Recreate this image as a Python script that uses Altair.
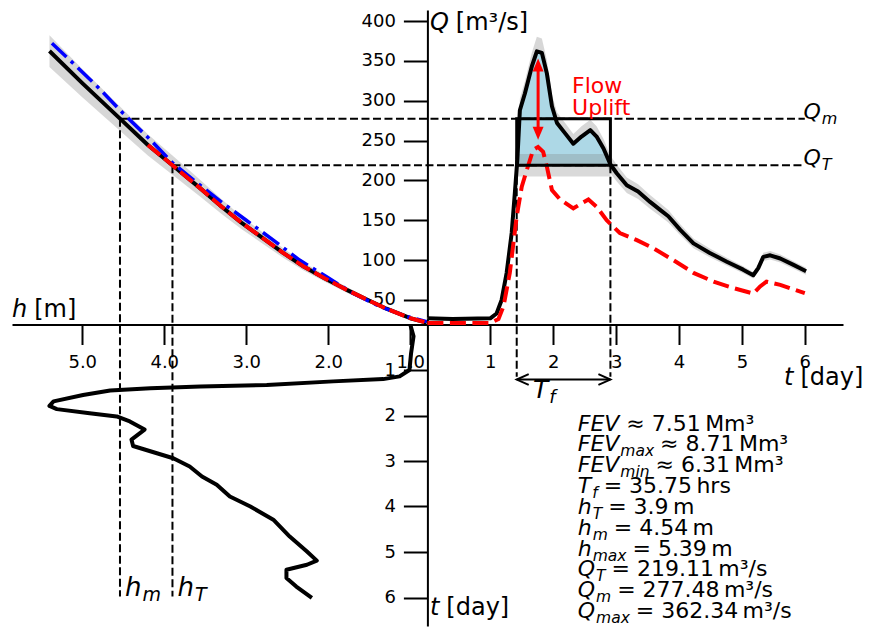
import altair as alt
import pandas as pd

# ---------------- values ----------------
# rating curve (stage h [m] -> discharge Q [m3/s]), black with grey band
H_RATING = [5.40, 5.00, 4.54, 4.20, 3.90, 3.56, 3.30, 3.06, 2.79, 2.55, 2.30, 2.04, 1.78, 1.53, 1.29, 1.00, 0.80]
Q_RATING = [362.3, 322, 277.5, 244.5, 219.1, 190, 167, 147, 127, 109, 92, 77, 63, 50.5, 39, 27.1, 21.5]
Q_RATING_LO = [342.4, 304.3, 262.2, 231.1, 207.0, 179.6, 157.8, 138.9, 120.0, 103.0, 86.9, 72.8, 59.5, 47.7, 36.9, 25.6, 20.3]
Q_RATING_HI = [382.2, 339.7, 292.8, 257.9, 231.2, 200.5, 176.2, 155.1, 134.0, 115.0, 97.1, 81.2, 66.5, 53.3, 41.1, 28.6, 22.7]
# red dashed part of the rating curve
H_RATING_RED = [4.20, 3.90, 3.56, 3.30, 3.06, 2.79, 2.55, 2.30, 2.04, 1.78, 1.53, 1.29, 1.00, 0.80]
Q_RATING_RED = [244.5, 219.1, 190, 167, 147, 127, 109, 92, 77, 63, 50.5, 39, 27.1, 21.5]
# blue dash-dot rating curve
H_RATING_BLUE = [5.37, 5.07, 4.78, 4.50, 4.17, 3.90, 3.60, 3.28, 3.00, 2.67, 2.35, 2.02, 1.70, 1.37, 1.04, 0.80]
Q_RATING_BLUE = [372, 343, 314, 284, 251, 222, 197, 171, 150, 125, 100, 79, 58.5, 41.7, 29.1, 22.8]

# hydrograph (t [day] -> Q), black with grey band
T_HYDRO = [0.00, 0.40, 1.00, 1.10, 1.18, 1.26, 1.34, 1.39, 1.43, 1.47, 1.55, 1.66, 1.74, 1.82,
           1.90, 1.98, 2.06, 2.19, 2.32, 2.45, 2.59, 2.69, 2.80, 2.91, 3.01, 3.17, 3.35, 3.54,
           3.70, 3.83, 4.02, 4.23, 4.49, 4.76, 5.02, 5.18, 5.26, 5.34, 5.45, 5.61, 5.82, 6.02]
Q_HYDRO = [27, 26, 27, 33, 50, 84, 134, 184, 226, 288, 309, 343, 362, 360,
           334, 293, 272, 259, 246, 255, 263, 255, 240, 220, 209, 194, 186, 173,
           163, 155, 138, 121, 109, 98, 88, 81, 90, 104, 106, 102, 94, 86]
Q_HYDRO_LO = [25.7, 24.7, 25.7, 31.4, 47.5, 79.8, 127.3, 174.8, 214.7, 273.6, 293.6, 325.9, 343.9, 342.0,
              317.3, 278.4, 258.4, 246.1, 233.7, 242.3, 249.9, 242.3, 228.0, 209.0, 198.6, 184.3, 176.7, 164.4,
              154.9, 147.3, 131.1, 115.0, 103.6, 93.1, 83.6, 77.0, 85.5, 98.8, 100.7, 96.9, 89.3, 81.7]
Q_HYDRO_HI = [28.4, 27.3, 28.4, 34.7, 52.5, 88.2, 140.7, 193.2, 237.3, 302.4, 324.5, 360.2, 380.1, 378.0,
              350.7, 307.7, 285.6, 272.0, 258.3, 267.8, 276.2, 267.8, 252.0, 231.0, 219.5, 203.7, 195.3, 181.7,
              171.2, 162.8, 144.9, 127.1, 114.5, 102.9, 92.4, 85.1, 94.5, 109.2, 111.3, 107.1, 98.7, 90.3]
# red dashed hydrograph
T_HYDRO_RED = [0.00, 1.00, 1.13, 1.21, 1.31, 1.42, 1.50, 1.58, 1.68, 1.76, 1.84, 1.90, 1.98, 2.11, 2.32,
               2.56, 2.69, 2.85, 3.06, 3.33, 3.59, 3.91, 4.23, 4.55, 4.86, 5.18, 5.29, 5.39, 5.61, 6.00]
Q_HYDRO_RED = [21, 21, 26, 42, 84, 155, 192, 213, 238, 242, 236, 217, 188, 176, 165,
               176, 167, 150, 134, 125, 115, 100, 84, 73, 65, 58, 67, 73, 69, 58.5]

# stage time series (t [day] downward -> h [m])
T_STAGE = [0.00, 0.26, 0.63, 1.00, 1.14, 1.20, 1.25, 1.33, 1.36, 1.40, 1.45, 1.55, 1.69, 1.79, 1.86,
           1.95, 2.02, 2.13, 2.31, 2.53, 2.67, 2.83, 2.94, 3.12, 3.34, 3.52, 3.78, 4.00, 4.29, 4.66,
           4.99, 5.19, 5.28, 5.39, 5.57, 5.76, 6.01]
H_STAGE = [1.00, 0.96, 0.99, 1.01, 1.13, 1.33, 1.94, 2.75, 3.56, 4.17, 4.66, 4.99, 5.35, 5.40, 5.31,
           4.91, 4.58, 4.42, 4.24, 4.40, 4.38, 4.09, 3.89, 3.69, 3.54, 3.36, 3.20, 2.95, 2.67, 2.47,
           2.26, 2.14, 2.26, 2.51, 2.51, 2.39, 2.20]

# summary values
FEV, FEV_MAX, FEV_MIN = 7.51, 8.71, 6.31
T_F_HRS = 35.75
H_T, H_M, H_MAX = 3.9, 4.54, 5.39
Q_T, Q_M, Q_MAX = 219.11, 277.48, 362.34
Q_T_LO, Q_T_HI = 205, 233          # grey uncertainty band of Q_T
T_START = 1.42                       # start of the flood window
T_END = T_START + T_F_HRS / 24.0
T_LINE_END = 6.0                     # right end of the Q_m / Q_T dashed lines
ARROW_T, ARROW_LO, ARROW_HI = 1.76, 251, 353   # "Flow Uplift" arrow

# tick labels
H_TICKS = [5.0, 4.0, 3.0, 2.0, 1.0]
T_TICKS = [1, 2, 3, 4, 5, 6]
Q_TICKS = [50, 100, 150, 200, 250, 300, 350, 400]
TD_TICKS = [1, 2, 3, 4, 5, 6]

# ---------------- layout: four quadrants sharing one crossing point ----------------
PLOT_W, PLOT_H = 831, 616
PAD = {"left": 12, "top": 10, "right": 28, "bottom": 8}
ORIGIN_X, ORIGIN_Y = 415.4, 314.5     # crossing of the spines inside the plot area
PX_T, PX_H, PX_Q, PX_TD = 62.9, 82.0, 0.797, 45.5   # px per day / metre / m3s / day(down)
H0, Q0 = 0.791, 19.2                  # stage and discharge at the crossing
KX = PX_H / PX_T
KY = PX_TD / PX_Q


def xh(h):
    return -(h - H0) * KX


def yt(td):
    return Q0 - td * KY


X_DOM = [-ORIGIN_X / PX_T, (PLOT_W - ORIGIN_X) / PX_T]
Y_DOM = [Q0 - (PLOT_H - ORIGIN_Y) / PX_Q, Q0 + ORIGIN_Y / PX_Q]
XS = alt.Scale(domain=X_DOM, nice=False, zero=False)
YS = alt.Scale(domain=Y_DOM, nice=False, zero=False)

FONT = "DejaVu Sans"
X_AXIS = alt.Axis(
    orient="bottom", offset=-(PLOT_H - ORIGIN_Y), title=None, grid=False,
    values=[xh(h) for h in H_TICKS] + T_TICKS,
    labelExpr=f"datum.value < 0 ? format({H0} - datum.value / {KX}, '.1f') : format(datum.value, '.0f')",
    domainColor="black", domainWidth=2, tickColor="black", tickWidth=2, tickSize=20,
    labelFont=FONT, labelFontSize=18, labelColor="black", labelPadding=9,
    labelOverlap=False, labelFlush=False, labelAlign="center", labelBaseline="top")
Y_AXIS = alt.Axis(
    orient="left", offset=-ORIGIN_X, title=None, grid=False,
    values=Q_TICKS + [yt(t) for t in TD_TICKS],
    labelExpr=f"datum.value > 0 ? format(datum.value, '.0f') : format(({Q0} - datum.value) / {KY}, '.0f')",
    domainColor="black", domainWidth=2, tickColor="black", tickWidth=2, tickSize=24,
    labelFont=FONT, labelFontSize=18, labelColor="black", labelPadding=8,
    labelOverlap=False, labelFlush=False)


def ex(field="X"):
    return alt.X(f"{field}:Q", scale=XS, axis=X_AXIS)


def ey(field="Y"):
    return alt.Y(f"{field}:Q", scale=YS, axis=Y_AXIS)


# ---------------- tables built from the arrays ----------------
rating = pd.DataFrame({"X": [xh(h) for h in H_RATING], "Y": Q_RATING,
                       "lo": Q_RATING_LO, "hi": Q_RATING_HI, "i": range(len(H_RATING))})
rating_red = pd.DataFrame({"X": [xh(h) for h in H_RATING_RED], "Y": Q_RATING_RED,
                           "i": range(len(H_RATING_RED))})
rating_blue = pd.DataFrame({"X": [xh(h) for h in H_RATING_BLUE], "Y": Q_RATING_BLUE,
                            "i": range(len(H_RATING_BLUE))})
hydro = pd.DataFrame({"X": T_HYDRO, "Y": Q_HYDRO, "lo": Q_HYDRO_LO, "hi": Q_HYDRO_HI,
                      "i": range(len(T_HYDRO))})
hydro_red = pd.DataFrame({"X": T_HYDRO_RED, "Y": Q_HYDRO_RED, "i": range(len(T_HYDRO_RED))})
stage = pd.DataFrame({"X": [xh(h) for h in H_STAGE], "Y": [yt(t) for t in T_STAGE],
                      "i": range(len(T_STAGE))})

inside = [(t, q) for t, q in zip(T_HYDRO, Q_HYDRO) if T_START < t < T_END]
fill = pd.DataFrame({"X": [T_START] + [p[0] for p in inside] + [T_END],
                     "Y": [Q_T] + [p[1] for p in inside] + [Q_T]})
fill["base"] = Q_T

qt_band = pd.DataFrame({"X": [T_START], "X2": [T_END], "Y": [Q_T_LO], "Y2": [Q_T_HI]})
box = pd.DataFrame({"X": [T_START], "X2": [T_END], "Y": [Q_T], "Y2": [Q_M]})

TD_DASH_END = 5.98
TD_TF_DASH = 1.15
TD_TF_ARROW = 1.21
dashed = pd.DataFrame([
    {"X": xh(H_M), "Y": Q_M, "X2": T_LINE_END, "Y2": Q_M},
    {"X": xh(H_T), "Y": Q_T, "X2": T_LINE_END, "Y2": Q_T},
    {"X": xh(H_M), "Y": Q_M, "X2": xh(H_M), "Y2": yt(TD_DASH_END)},
    {"X": xh(H_T), "Y": Q_T, "X2": xh(H_T), "Y2": yt(TD_DASH_END)},
    {"X": T_START, "Y": Q_T, "X2": T_START, "Y2": yt(TD_TF_DASH)},
    {"X": T_END, "Y": Q_T, "X2": T_END, "Y2": yt(TD_TF_DASH)},
])

# ---------------- text pieces (italic symbols, subscripts, roman text) ----------------
ADV = {" ": 0.318, ".": 0.318, "=": 0.838, "\u2248": 0.838, "\u2009": 0.2, "F": 0.575, "E": 0.632,
       "V": 0.684, "T": 0.611, "Q": 0.787, "h": 0.634, "m": 0.974, "a": 0.613, "x": 0.592,
       "i": 0.278, "n": 0.634, "f": 0.352, "M": 0.863, "s": 0.521, "r": 0.411, "/": 0.337,
       "\u00b3": 0.401, "t": 0.392, "[": 0.390, "]": 0.390, "d": 0.635, "y": 0.592}
for d in "0123456789":
    ADV[d] = 0.636


def text_w(s, size):
    return sum(ADV.get(c, 0.6) for c in s) * size


segments = []


def add_label(X, Y, parts, color="black"):
    x = X
    for text, style, size, drop, gap in parts:
        x += gap / PX_T
        if text:
            segments.append({"text": text, "X": x, "Y": Y - drop / PX_Q, "size": size,
                             "style": style, "color": color})
        x += text_w(text, size) / PX_T


ROWS = [
    ("FEV", "", f"\u2248 {FEV:.2f}\u2009Mm\u00b3"),
    ("FEV", "max", f"\u2248 {FEV_MAX:.2f}\u2009Mm\u00b3"),
    ("FEV", "min", f"\u2248 {FEV_MIN:.2f}\u2009Mm\u00b3"),
    ("T", "f", f"= {T_F_HRS:.2f}\u2009hrs"),
    ("h", "T", f"= {H_T}\u2009m"),
    ("h", "m", f"= {H_M}\u2009m"),
    ("h", "max", f"= {H_MAX}\u2009m"),
    ("Q", "T", f"= {Q_T}\u2009m\u00b3/s"),
    ("Q", "m", f"= {Q_M}\u2009m\u00b3/s"),
    ("Q", "max", f"= {Q_MAX}\u2009m\u00b3/s"),
]
BLOCK_T, BLOCK_TD0, BLOCK_STEP = 2.39, 2.33, 0.458
for k, (sym, sub, rest) in enumerate(ROWS):
    add_label(BLOCK_T, yt(BLOCK_TD0 + k * BLOCK_STEP),
              [(sym, "it", 22, 0, 0), (sub, "it", 15.5, 5, 1), (rest, "rm", 22, 0, 6)])

# axis titles
add_label(0.04, 388.8, [("Q", "it", 24, 0, 0), ("[m\u00b3/s]", "rm", 24, 0, 7)])
add_label(xh(5.857), 29.1, [("h", "it", 24, 0, 0), ("[m]", "rm", 24, 0, 7)])
add_label(5.67, yt(1.325), [("t", "it", 24, 0, 0), ("[day]", "rm", 24, 0, 7)])
add_label(0.04, yt(6.38), [("t", "it", 24, 0, 0), ("[day]", "rm", 24, 0, 7)])
# reference-level labels
add_label(5.98, Q_M, [("Q", "it", 22, 0, 0), ("m", "it", 16, 5, 1)])
add_label(5.98, Q_T, [("Q", "it", 22, 0, 0), ("T", "it", 16, 5, 1)])
add_label(xh(H_M) + 5 / PX_T, yt(5.96), [("h", "it", 26, 0, 0), ("m", "it", 19, 5, 1)])
add_label(xh(H_T) + 5 / PX_T, yt(5.96), [("h", "it", 26, 0, 0), ("T", "it", 19, 5, 1)])
add_label(1.68, yt(1.61), [("T", "it", 25, 0, 0), ("f", "it", 18, 5, 1)])
# flow uplift
add_label(2.30, 310, [("Flow", "rm", 22, 0, 0)], color="#ff0000")
add_label(2.30, 282, [("Uplift", "rm", 22, 0, 0)], color="#ff0000")

seg = pd.DataFrame(segments)

# ---------------- layers ----------------
xe, ye = ex(), ey()
layers = []

layers.append(alt.Chart(rating).mark_area(color="#d3d3d3", opacity=0.9, orient="vertical")
              .encode(x=xe, y=ey("lo"), y2="hi:Q"))
layers.append(alt.Chart(hydro).mark_area(color="#d3d3d3", opacity=0.9, orient="vertical")
              .encode(x=xe, y=ey("lo"), y2="hi:Q"))
layers.append(alt.Chart(fill).mark_area(color="#add8e6", opacity=1, orient="vertical")
              .encode(x=xe, y=ye, y2="base:Q"))
layers.append(alt.Chart(qt_band).mark_rect(color="#808080", opacity=0.3)
              .encode(x=xe, x2="X2:Q", y=ye, y2="Y2:Q"))
layers.append(alt.Chart(dashed).mark_rule(color="black", strokeWidth=2, strokeDash=[8, 3.5])
              .encode(x=xe, x2="X2:Q", y=ye, y2="Y2:Q"))

layers.append(alt.Chart(rating).mark_line(color="black", strokeWidth=4, strokeJoin="round")
              .encode(x=xe, y=ye, order="i:Q"))
layers.append(alt.Chart(rating_blue).mark_line(color="#0000ff", strokeWidth=3.5, strokeDash=[20, 6, 3.5, 6])
              .encode(x=xe, y=ye, order="i:Q"))
layers.append(alt.Chart(rating_red).mark_line(color="#ff0000", strokeWidth=4, strokeDash=[16, 5])
              .encode(x=xe, y=ye, order="i:Q"))
layers.append(alt.Chart(hydro).mark_line(color="black", strokeWidth=4, strokeJoin="round")
              .encode(x=xe, y=ye, order="i:Q"))
layers.append(alt.Chart(hydro_red).mark_line(color="#ff0000", strokeWidth=4, strokeDash=[16, 6.5])
              .encode(x=xe, y=ye, order="i:Q"))
layers.append(alt.Chart(stage).mark_line(color="black", strokeWidth=4, strokeJoin="round")
              .encode(x=xe, y=ye, order="i:Q"))

layers.append(alt.Chart(box).mark_rect(fillOpacity=0, stroke="black", strokeWidth=3)
              .encode(x=xe, x2="X2:Q", y=ye, y2="Y2:Q"))

# flow uplift arrow
HEAD = 13.0
up = pd.DataFrame({"X": [ARROW_T], "Y": [ARROW_LO + HEAD / PX_Q * 0.6], "Y2": [ARROW_HI - HEAD / PX_Q * 0.6]})
layers.append(alt.Chart(up).mark_rule(color="#ff0000", strokeWidth=3)
              .encode(x=xe, y=ye, y2="Y2:Q"))
layers.append(alt.Chart(pd.DataFrame({"X": [ARROW_T], "Y": [ARROW_HI]}))
              .mark_point(shape="M0,0L-0.42,1L0.42,1Z", size=(2 * HEAD) ** 2, filled=True,
                          color="#ff0000", opacity=1, strokeWidth=0)
              .encode(x=xe, y=ye))
layers.append(alt.Chart(pd.DataFrame({"X": [ARROW_T], "Y": [ARROW_LO]}))
              .mark_point(shape="M0,0L-0.42,-1L0.42,-1Z", size=(2 * HEAD) ** 2, filled=True,
                          color="#ff0000", opacity=1, strokeWidth=0)
              .encode(x=xe, y=ye))

# T_f double arrow
tf = pd.DataFrame({"X": [T_START], "X2": [T_END], "Y": [yt(TD_TF_ARROW)]})
layers.append(alt.Chart(tf).mark_rule(color="black", strokeWidth=2).encode(x=xe, x2="X2:Q", y=ye))
CHEV = 12.0
layers.append(alt.Chart(pd.DataFrame({"X": [T_START], "Y": [yt(TD_TF_ARROW)]}))
              .mark_point(shape="M1,-0.45L0,0L1,0.45", size=(2 * CHEV) ** 2, filled=False,
                          color="black", strokeWidth=2, opacity=1)
              .encode(x=xe, y=ye))
layers.append(alt.Chart(pd.DataFrame({"X": [T_END], "Y": [yt(TD_TF_ARROW)]}))
              .mark_point(shape="M-1,-0.45L0,0L-1,0.45", size=(2 * CHEV) ** 2, filled=False,
                          color="black", strokeWidth=2, opacity=1)
              .encode(x=xe, y=ye))

# text
for style, fstyle in (("it", "italic"), ("rm", "normal")):
    part = seg[seg["style"] == style]
    layers.append(alt.Chart(part).mark_text(align="left", baseline="alphabetic", font=FONT,
                                            fontStyle=fstyle)
                  .encode(x=xe, y=ye, text="text:N",
                          size=alt.Size("size:Q", scale=None, legend=None),
                          color=alt.Color("color:N", scale=None, legend=None)))

chart = (alt.layer(*layers)
         .properties(width=PLOT_W, height=PLOT_H, padding=PAD,
                     autosize=alt.AutoSizeParams(type="none"))
         .configure_view(strokeWidth=0))

chart.save("out.html", embed_options={"renderer": "svg", "actions": False})
